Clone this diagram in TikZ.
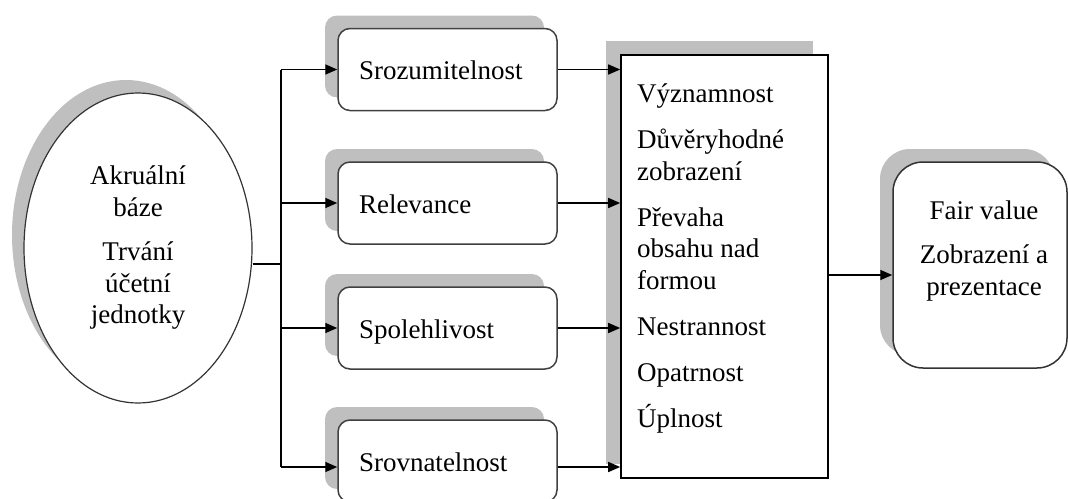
\documentclass[tikz,border=0pt]{standalone}
\usepackage{fontspec}
\setmainfont{Liberation Serif}
\usetikzlibrary{shadows,arrows.meta,shapes.geometric}

\begin{document}
\begin{tikzpicture}[x=1pt,y=-1pt,
  every node/.style={font=\fontsize{27}{31.5}\selectfont},
  conn/.style={line width=1.6pt, draw=black},
  arr/.style={conn, -{Triangle[length=12pt,width=10pt]}},
  grayshadow/.style 2 args={general shadow={fill=black!25, shadow xshift=#1, shadow yshift=#2}},
  crit/.style={draw=black!75, line width=1.5pt, fill=white, rounded corners=12pt,
    minimum width=219pt, minimum height=82pt, text width=177pt, inner xsep=21pt,
    inner ysep=0pt, align=left, text height=20pt, text depth=0pt,
    grayshadow={-13pt}{13pt}},
]
\useasboundingbox (0,0) rectangle (1068,498);
\clip (0,0) rectangle (1068,498);

% starting assumptions
\node[ellipse, draw=black!80, line width=1.2pt, fill=white, minimum width=228pt,
  minimum height=310pt, inner sep=0pt, align=center, grayshadow={-12pt}{13pt}]
  (basis) at (138,248) {Akruální\\ báze\\[13pt] Trvání\\ účetní\\ jednotky};

% qualitative characteristics
\node[crit] (sroz) at (447.5,69.5) {Srozumitelnost};
\node[crit] (rel)  at (447.5,203)  {Relevance};
\node[crit] (spol) at (447.5,328)  {Spolehlivost};
\node[crit] (srov) at (447.5,461)  {Srovnatelnost};

% list of detailed principles (anchored on the baseline of the last line)
\node[draw=black, line width=1.6pt, fill=white, minimum width=207pt, minimum height=423pt,
  grayshadow={-15pt}{14pt}] (qual) at (724.5,266.5) {};
\node[anchor=base west, align=left, inner sep=0pt] (qualtext) at (637,427)
  {Významnost\\[14.5pt] Důvěryhodné\\ zobrazení\\[14.5pt] Převaha\\ obsahu nad\\ formou\\[14.5pt]
   Nestrannost\\[14.5pt] Opatrnost\\[14.5pt] Úplnost};

% result
\node[draw=black!80, line width=1.5pt, fill=white, rounded corners=30pt, minimum width=174pt,
  minimum height=206pt, grayshadow={-13pt}{13pt}] (fair) at (980,265) {};
\node[anchor=base, align=center, inner sep=0pt] (fairtext) at (984,295)
  {Fair value\\[13pt] Zobrazení a\\ prezentace};

% connectors
\coordinate (j) at (281,264);
\coordinate (srovW) at ([yshift=-6pt]srov.west);
\coordinate (srovE) at ([yshift=-6pt]srov.east);
\coordinate (out) at ([yshift=-8.5pt]qual.east);

\draw[conn] (j -| basis.east) -- (j);
\draw[conn] (sroz.west -| j) -- (srovW -| j);
\draw[arr] (sroz.west -| j) -- (sroz.west);
\draw[arr] (rel.west -| j) -- (rel.west);
\draw[arr] (spol.west -| j) -- (spol.west);
\draw[arr] (srovW -| j) -- (srovW);

\draw[arr] (sroz.east) -- (sroz.east -| qual.west);
\draw[arr] (rel.east) -- (rel.east -| qual.west);
\draw[arr] (spol.east) -- (spol.east -| qual.west);
\draw[arr] (srovE) -- (srovE -| qual.west);

\draw[arr] (out) -- (out -| fair.west);
\end{tikzpicture}
\end{document}
